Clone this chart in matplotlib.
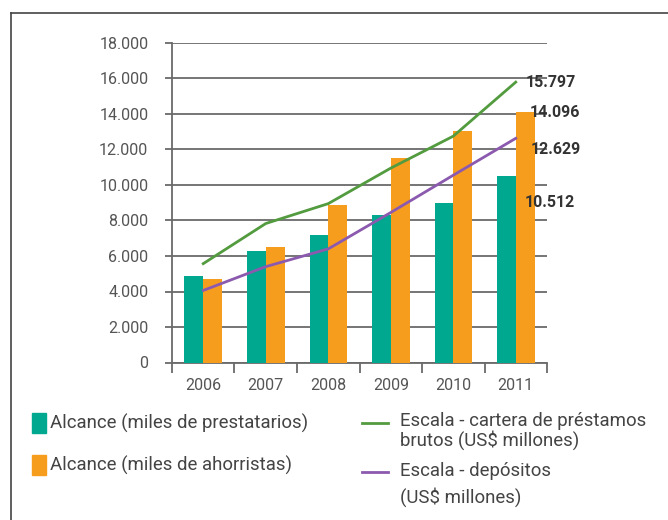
import numpy as np
import matplotlib
matplotlib.use('Agg')
import matplotlib.pyplot as plt
from matplotlib.patches import Rectangle
from matplotlib.lines import Line2D
from matplotlib.ticker import FuncFormatter

plt.rcParams['font.family'] = ['Roboto', 'DejaVu Sans']

years = ['2006', '2007', '2008', '2009', '2010', '2011']
prestatarios = [4900, 6300, 7200, 8300, 9000, 10512]
ahorristas = [4700, 6500, 8900, 11500, 13050, 14096]
cartera = [5570, 7830, 8950, 10950, 12750, 15797]
depositos = [4060, 5400, 6400, 8450, 10550, 12629]

legend_labels = ['Alcance (miles de prestatarios)',
                 'Alcance (miles de ahorristas)',
                 ['Escala - cartera de préstamos', 'brutos (US$ millones)'],
                 ['Escala - depósitos', '(US$ millones)']]

teal = '#00A88F'
orange = '#F79D1E'
green = '#539B3F'
purple = '#8B5AAE'
grid_c = '#6a6a6a'
txt_c = '#555555'

W, H = 668, 520
fig = plt.figure(figsize=(W / 100, H / 100), dpi=100)


def px(x, y):
    return x / W, 1 - y / H


ax = fig.add_axes([172 / W, 1 - 362.5 / H, 375 / W, 319.5 / H])
x = np.arange(len(years))
bw = 0.3
ax.bar(x - bw / 2, prestatarios, bw, color=teal, zorder=3)
ax.bar(x + bw / 2, ahorristas, bw, color=orange, zorder=3)
ax.plot(x, cartera, color=green, lw=2.0, zorder=4)
ax.plot(x, depositos, color=purple, lw=2.0, zorder=4)

ax.set_xlim(-0.5, 5.5)
ax.set_ylim(0, 18000)
ax.set_yticks(range(0, 18001, 2000))
ax.yaxis.set_major_formatter(FuncFormatter(lambda v, p: '{:,}'.format(int(v)).replace(',', '.')))
ax.set_xticks(x)
ax.set_xticklabels(years)
ax.set_xticks(np.arange(-0.5, 6, 1), minor=True)
ax.tick_params(axis='x', which='major', length=0, pad=11, labelsize=11.5, labelcolor=txt_c)
ax.tick_params(axis='x', which='minor', length=7, width=1.3, color=grid_c)
ax.tick_params(axis='y', length=5, width=1.3, color=grid_c, pad=12, labelsize=11.5, labelcolor=txt_c)

ax.grid(axis='y', color=grid_c, lw=1.3, zorder=0)
for s in ['top', 'right']:
    ax.spines[s].set_visible(False)
for s in ['left', 'bottom']:
    ax.spines[s].set_color(grid_c)
    ax.spines[s].set_linewidth(1.3)

# value labels at 2011
ann = [(cartera[5], 10, 0), (ahorristas[5], 14, 0), (depositos[5], 15, -11), (prestatarios[5], 9, -27)]
for v, dx, dy in ann:
    ax.annotate('{:,}'.format(v).replace(',', '.'), xy=(5, v), xytext=(dx, dy),
                textcoords='offset pixels', ha='left', va='center',
                fontsize=11.5, fontweight='bold', color='#333333', annotation_clip=False)

# frame
fig.add_artist(Line2D([px(10.5, 0)[0]] * 2, [px(0, 520)[1], px(0, 12.5)[1]], color='#444444', lw=1.2))
fig.add_artist(Line2D([px(10.5, 0)[0], 1.0], [px(0, 12.5)[1]] * 2, color='#444444', lw=1.2))

# legend
for i, (col, yy) in enumerate([(teal, 423), (orange, 465)]):
    x0, y0 = px(32, yy + 10)
    fig.add_artist(Rectangle((x0, y0), 14 / W, 20 / H, color=col, transform=fig.transFigure))
    fig.text(*px(50, yy), legend_labels[i], ha='left', va='center', fontsize=13.4, color='#444444')

for col, yy, lines, dys in [(green, 423, legend_labels[2], [421, 440]),
                            (purple, 472, legend_labels[3], [471, 497])]:
    fig.add_artist(Line2D([362 / W, 388 / W], [px(0, yy)[1]] * 2, color=col, lw=2.0))
    for t, ty in zip(lines, dys):
        fig.text(*px(400, ty), t, ha='left', va='center', fontsize=13.4, color='#444444')

fig.savefig('out.png', dpi=100)
